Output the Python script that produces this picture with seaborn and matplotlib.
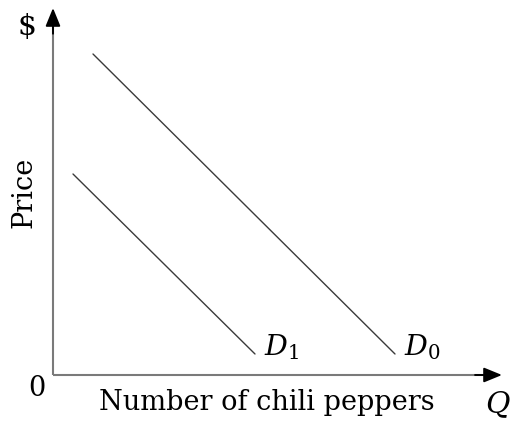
import matplotlib
matplotlib.use("Agg")
import matplotlib.pyplot as plt
import seaborn as sns
import pandas as pd

sns.set_style("white")
plt.rcParams["font.family"] = ["DejaVu Serif"]
plt.rcParams["mathtext.fontset"] = "dejavuserif"
plt.rcParams["text.color"] = "black"

# Demand curves: quantity vs price (arbitrary units)
d0_quantity = [4.0, 34.2]
d0_price = [32.1, 2.1]
d1_quantity = [2.0, 20.2]
d1_price = [20.1, 2.1]
curve_labels = ["$D_0$", "$D_1$"]

df = pd.concat([
    pd.DataFrame({"Q": d0_quantity, "P": d0_price, "curve": curve_labels[0]}),
    pd.DataFrame({"Q": d1_quantity, "P": d1_price, "curve": curve_labels[1]}),
])

W, H = 512, 423
fig = plt.figure(figsize=(W / 100, H / 100), dpi=100)
x0, y0, x1, y1 = 53, 375, 502, 8
ax = fig.add_axes([x0 / W, (H - y0) / H, (x1 - x0) / W, (y0 - y1) / H])
ax.set_xlim(0, (x1 - x0) / 10)
ax.set_ylim(0, (y0 - y1) / 10)

sns.lineplot(data=df, x="Q", y="P", units="curve", estimator=None,
             color="#3a3a3a", linewidth=1.0, ax=ax, sort=False)

ax.set_xticks([])
ax.set_yticks([])
ax.set_xlabel("")
ax.set_ylabel("")
for s in ax.spines.values():
    s.set_visible(False)

# Axis shafts in gray, with solid black arrowheads at the ends
ax.plot([0, 0.96], [0, 0], transform=ax.transAxes, color="#7a7a7a", lw=1.5,
        clip_on=False, solid_capstyle="butt")
ax.plot([0, 0], [0, 0.95], transform=ax.transAxes, color="#7a7a7a", lw=1.5,
        clip_on=False, solid_capstyle="butt")
head = dict(arrowstyle="-|>,head_length=1.1,head_width=0.45",
            color="black", lw=1.4, shrinkA=0, shrinkB=0)
ax.annotate("", xy=(1.0, 0), xytext=(0.94, 0), xycoords="axes fraction",
            arrowprops=head, annotation_clip=False)
ax.annotate("", xy=(0, 1.0), xytext=(0, 0.93), xycoords="axes fraction",
            arrowprops=head, annotation_clip=False)

fs = 19.5
ax.text(d0_quantity[1] + 0.9, d0_price[1] - 0.8, curve_labels[0], fontsize=fs + 1,
        ha="left", va="bottom")
ax.text(d1_quantity[1] + 0.9, d1_price[1] - 0.8, curve_labels[1], fontsize=fs + 1,
        ha="left", va="bottom")

fig.text(27 / W, 1 - 27 / H, "$", fontsize=fs + 2, ha="center", va="center")
fig.text(24 / W, 1 - 192 / H, "Price", fontsize=fs, ha="center", va="center",
         rotation=90)
fig.text(37 / W, 1 - 388 / H, "0", fontsize=fs, ha="center", va="center")
fig.text(267 / W, 1 - 402 / H, "Number of chili peppers", fontsize=fs,
         ha="center", va="center")
fig.text(498 / W, 1 - 405 / H, "$Q$", fontsize=fs + 2, ha="center", va="center")

fig.savefig("out.png", dpi=100)
